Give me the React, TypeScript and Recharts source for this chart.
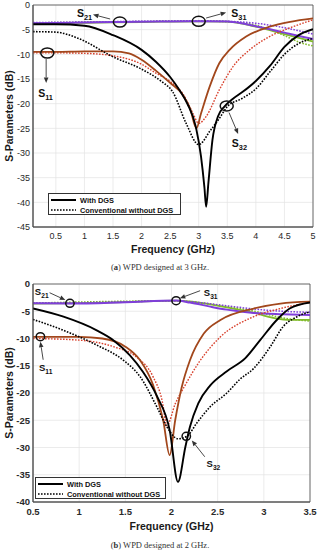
import {
  LineChart,
  Line,
  XAxis,
  YAxis,
  CartesianGrid,
  ReferenceDot,
  ReferenceLine,
  ReferenceArea,
} from "recharts";

type Pt = [number, number];

// ---- (a) WPD designed at 3 GHz ----
const topFreqTicks = [0.5, 1, 1.5, 2, 2.5, 3, 3.5, 4, 4.5, 5];
const topDbTicks = [0, -5, -10, -15, -20, -25, -30, -35, -40, -45];

const topS31Dgs: Pt[] = [[0.1, -3.75], [1, -3.6], [2, -3.45], [3, -3.3], [3.5, -3.35], [4, -4.4], [4.5, -5.9], [5, -7.4]];
const topS21Dgs: Pt[] = [[0.1, -3.7], [0.5, -3.65], [1, -3.55], [1.6, -3.45], [2, -3.4], [2.5, -3.35], [3, -3.3], [3.5, -3.35], [3.75, -3.7], [4, -4.3], [4.25, -4.9], [4.5, -5.6], [4.75, -6.3], [5, -6.9]];
const topS21Conv: Pt[] = [[0.1, -3.55], [1, -3.45], [2, -3.3], [3, -3.2], [3.5, -3.3], [4, -3.7], [4.5, -4.6], [5, -5.9]];
const topS31Conv: Pt[] = [[0.1, -3.6], [1, -3.5], [2, -3.35], [3, -3.25], [3.5, -3.4], [4, -4.1], [4.25, -5], [4.5, -6.2], [4.75, -7.5], [5, -8.3]];
const topS11Dgs: Pt[] = [[0.1, -9.5], [0.5, -9.5], [1, -9.4], [1.5, -9.4], [1.78, -9.8], [2, -11.1], [2.25, -13.3], [2.5, -15.8], [2.72, -18.2], [2.85, -21], [2.96, -25], [3.04, -22], [3.19, -16.6], [3.36, -11.8], [3.54, -9.1], [3.83, -6.4], [4.24, -4.4], [4.6, -3.4], [5, -2.7]];
const topS11Conv: Pt[] = [[0.1, -9.7], [0.5, -9.7], [1, -9.8], [1.5, -10.3], [2, -12], [2.25, -13.8], [2.5, -15.5], [2.75, -18.5], [2.9, -22], [3, -24], [3.13, -22.6], [3.36, -17.2], [3.6, -12.5], [3.89, -9.1], [4.24, -6.4], [4.65, -4.4], [5, -3]];
const topS32Dgs: Pt[] = [[0.1, -3.9], [0.5, -3.9], [1, -4.2], [1.5, -6.1], [2, -9.1], [2.25, -11.5], [2.5, -14.6], [2.66, -17.2], [2.8, -20], [2.95, -24.7], [3.04, -30.7], [3.1, -37], [3.13, -40.9], [3.17, -36], [3.24, -27.4], [3.34, -22.5], [3.45, -20.6], [3.6, -19], [3.77, -17.6], [4, -15.4], [4.25, -12.3], [4.5, -8.5], [4.75, -6.1], [5, -4.9]];
const topS32Conv: Pt[] = [[0.1, -5.4], [0.5, -5.5], [0.9, -6.8], [1.5, -10.5], [2, -13], [2.36, -15.6], [2.54, -17.5], [2.78, -24], [3, -28.3], [3.2, -25.5], [3.36, -23], [3.5, -20.6], [3.75, -19], [4, -17], [4.25, -13.5], [4.5, -10], [4.75, -7.8], [5, -6.8]];

const topCircles: Pt[] = [[1.62, -3.45], [3.0, -3.3], [0.35, -9.73], [3.49, -20.47]];
const topArrows: [number, number, number, number][] = [
  [1.45, -2.84, 1.15, -1.93],
  [3.13, -2.64, 3.48, -1.52],
  [0.33, -10.95, 0.33, -15.8],
  [3.53, -21.8, 3.69, -26.15],
];
const topLabels: [string, number, number][] = [
  ["21", 0.87, -2.43],
  ["31", 3.57, -2.43],
  ["11", 0.19, -18.65],
  ["32", 3.58, -28.8],
];

// ---- (b) WPD designed at 2 GHz ----
const botFreqTicks = [0.5, 1, 1.5, 2, 2.5, 3, 3.5];
const botDbTicks = [0, -5, -10, -15, -20, -25, -30, -35, -40];

const botS31Dgs: Pt[] = [[0.5, -3.6], [1, -3.5], [1.5, -3.3], [2.05, -3.05], [2.3, -3.4], [2.6, -4.3], [2.9, -5.3], [3.1, -6.2], [3.3, -6.6], [3.5, -6.6]];
const botS21Dgs: Pt[] = [[0.5, -3.55], [0.9, -3.6], [1.5, -3.35], [2.05, -3.05], [2.2, -3.4], [2.42, -4.15], [2.6, -4.7], [2.89, -5.3], [3.2, -5.55], [3.5, -5.7]];
const botS21Conv: Pt[] = [[0.5, -3.5], [1, -3.45], [1.5, -3.3], [2, -3.05], [2.3, -3.4], [2.6, -4], [2.9, -4.6], [3.2, -5], [3.5, -5.2]];
const botS31Conv: Pt[] = [[0.5, -3.5], [2, -3.1], [2.5, -3.9], [2.9, -5], [3.2, -6.2], [3.5, -6.8]];
const botS11Dgs: Pt[] = [[0.5, -9.7], [1, -9.7], [1.25, -10], [1.5, -11.5], [1.66, -14], [1.8, -18.5], [1.91, -25], [1.98, -31.4], [2.04, -25], [2.11, -19], [2.2, -14], [2.35, -9.1], [2.53, -6.6], [2.89, -4.5], [3.18, -3.6], [3.5, -3.25]];
const botS11Conv: Pt[] = [[0.5, -10], [1, -10.3], [1.37, -11.5], [1.62, -13.4], [1.8, -17], [1.9, -21.5], [1.95, -26], [2.04, -22], [2.15, -18.5], [2.3, -14.3], [2.53, -9.7], [2.89, -6], [3.18, -4.5], [3.5, -3.4]];
const botS32Dgs: Pt[] = [[0.5, -4.5], [0.83, -6], [1.19, -8.5], [1.37, -10.3], [1.55, -13.1], [1.69, -16.1], [1.84, -20.5], [1.98, -26.8], [2.07, -36.3], [2.15, -29.9], [2.2, -26.2], [2.29, -21.9], [2.42, -18.6], [2.6, -16], [2.8, -13.6], [2.96, -10.3], [3.14, -6.6], [3.28, -4.5], [3.5, -3.4]];
const botS32Conv: Pt[] = [[0.5, -6.5], [0.83, -8.5], [1.19, -11.2], [1.48, -14], [1.66, -17], [1.84, -22.5], [1.95, -26.2], [2.07, -28.4], [2.17, -27.9], [2.27, -25.6], [2.42, -22.5], [2.6, -20], [2.74, -17.5], [2.89, -15.5], [3.07, -11.5], [3.21, -7.8], [3.36, -6], [3.5, -5.1]];

const botCircles: Pt[] = [[0.9, -3.54], [2.05, -3.06], [0.58, -9.67], [2.16, -27.95]];
const botArrows: [number, number, number, number][] = [
  [0.68, -1.6, 0.85, -2.94],
  [2.31, -1.23, 2.09, -2.62],
  [0.61, -13.9, 0.58, -10.6],
  [2.36, -31.7, 2.22, -28.7],
];
const botLabels: [string, number, number][] = [
  ["21", 0.52, -2.0],
  ["31", 2.35, -2.2],
  ["11", 0.565, -15.96],
  ["32", 2.38, -33.6],
];

const PURPLE = "#7f3fd9";
const GREEN = "#80bb2a";
const BROWN = "#a2471c";
const RED = "#d8402c";
const DOT = "1.6 1.4";
const SANS = "'Liberation Sans', Arial, sans-serif";

const toPts = (arr: Pt[]) => arr.map(([f, v]) => ({ f, v }));

const styleFor = (name: string) => {
  if (name.startsWith("S31 DGS")) return { stroke: GREEN, w: 1.8, dash: undefined };
  if (name.startsWith("S21 DGS")) return { stroke: PURPLE, w: 2, dash: undefined };
  if (name.startsWith("S21 conv")) return { stroke: PURPLE, w: 1.5, dash: DOT };
  if (name.startsWith("S31 conv")) return { stroke: GREEN, w: 1.5, dash: DOT };
  if (name.startsWith("S11 DGS")) return { stroke: BROWN, w: 1.8, dash: undefined };
  if (name.startsWith("S11 conv")) return { stroke: RED, w: 1.4, dash: DOT };
  if (name.startsWith("S32 DGS")) return { stroke: "#000", w: 1.9, dash: undefined };
  return { stroke: "#000", w: 1.6, dash: DOT };
};

const ArrowShape = (props: any) => {
  const { x1, y1, x2, y2 } = props;
  const a = Math.atan2(y2 - y1, x2 - x1);
  const len = 5.5;
  const half = 2.3;
  const bx = x2 - len * Math.cos(a);
  const by = y2 - len * Math.sin(a);
  const px = -Math.sin(a) * half;
  const py = Math.cos(a) * half;
  return (
    <g>
      <line x1={x1} y1={y1} x2={bx} y2={by} stroke="#333" strokeWidth={0.9} />
      <polygon points={`${x2},${y2} ${bx + px},${by + py} ${bx - px},${by - py}`} fill="#333" />
    </g>
  );
};

type PanelProps = {
  series: [string, Pt[]][];
  xDomain: [number, number];
  xTicks: number[];
  yDomain: [number, number];
  yTicks: number[];
  circles: Pt[];
  arrows: [number, number, number, number][];
  labels: [string, number, number][];
  width: number;
  height: number;
  right: number;
  boldTicks: boolean;
  ellipse: [number, number];
  labelSize: number;
  xLabelOffset: number;
};

const Panel = (p: PanelProps) => {
  const tick = {
    fontSize: p.boldTicks ? 9.5 : 9,
    fontWeight: p.boldTicks ? "bold" : "normal",
    fill: "#2a2a2a",
    fontFamily: SANS,
  };
  return (
    <LineChart
      width={p.width}
      height={p.height}
      margin={{ top: 5, right: p.right, left: 0, bottom: 0 }}
    >
      <CartesianGrid stroke="#e3e3e3" strokeWidth={0.7} />
      <ReferenceArea
        x1={p.xDomain[0]}
        x2={p.xDomain[1]}
        y1={p.yDomain[0]}
        y2={p.yDomain[1]}
        fill="none"
        stroke="#4d4d4d"
        strokeWidth={0.8}
        fillOpacity={0}
      />
      <XAxis
        dataKey="f"
        type="number"
        domain={p.xDomain}
        ticks={p.xTicks}
        allowDataOverflow
        height={35}
        tickLine={false}
        tickSize={6}
        tickMargin={0}
        axisLine={{ stroke: "#4d4d4d" }}
        tick={tick}
        label={{
          value: "Frequency (GHz)",
          position: "insideBottom",
          offset: p.xLabelOffset,
          style: { fontFamily: SANS, fontWeight: "bold", fontSize: 10.5, fill: "#1a1a1a" },
        }}
      />
      <YAxis
        type="number"
        domain={p.yDomain}
        ticks={p.yTicks}
        allowDataOverflow
        width={33}
        tickLine={false}
        tickSize={2}
        tickMargin={1}
        axisLine={{ stroke: "#4d4d4d" }}
        tick={tick}
        label={{
          content: (lp: any) => {
            const vb = lp.viewBox || { x: 0, y: 0, height: 0 };
            const cx = vb.x + 9;
            const cy = vb.y + vb.height / 2;
            return (
              <text
                x={cx}
                y={cy}
                transform={`rotate(-90, ${cx}, ${cy})`}
                textAnchor="middle"
                dominantBaseline="central"
                fontFamily={SANS}
                fontWeight="bold"
                fontSize={10.5}
                fill="#1a1a1a"
              >
                S-Parameters (dB)
              </text>
            );
          },
        }}
      />
      {p.series.map(([name, pts]) => {
        const s = styleFor(name);
        return (
          <Line
            key={name}
            name={name}
            data={toPts(pts)}
            dataKey="v"
            type="monotone"
            stroke={s.stroke}
            strokeWidth={s.w}
            strokeDasharray={s.dash}
            dot={false}
            activeDot={false}
            isAnimationActive={false}
          />
        );
      })}
      {p.arrows.map(([f1, d1, f2, d2], i) => (
        <ReferenceLine
          key={`a${i}`}
          segment={[
            { x: f1, y: d1 },
            { x: f2, y: d2 },
          ]}
          ifOverflow="visible"
          shape={(sp: any) => <ArrowShape {...sp} />}
        />
      ))}
      {p.circles.map(([f, d], i) => (
        <ReferenceDot
          key={`c${i}`}
          x={f}
          y={d}
          r={5}
          ifOverflow="visible"
          shape={(sp: any) => (
            <ellipse
              cx={sp.cx}
              cy={sp.cy}
              rx={p.ellipse[0]}
              ry={p.ellipse[1]}
              fill="none"
              stroke="#111"
              strokeWidth={1.5}
            />
          )}
        />
      ))}
      {p.labels.map(([sub, f, d], i) => (
        <ReferenceDot
          key={`l${i}`}
          x={f}
          y={d}
          r={1}
          ifOverflow="visible"
          shape={(sp: any) => (
            <text
              x={sp.cx}
              y={sp.cy}
              fontFamily={SANS}
              fontWeight="bold"
              fontSize={p.labelSize}
              fill="#111"
            >
              S
              <tspan dy={p.labelSize * 0.3} fontSize={p.labelSize * 0.7}>
                {sub}
              </tspan>
            </text>
          )}
        />
      ))}
    </LineChart>
  );
};

const LegendBox = ({ left, top, width }: { left: number; top: number; width: number }) => (
  <div
    style={{
      position: "absolute",
      left,
      top,
      width,
      height: 22,
      border: "1px solid #333",
      background: "#fff",
      boxSizing: "border-box",
      fontFamily: SANS,
      fontWeight: "bold",
      fontSize: 7.4,
      color: "#111",
    }}
  >
    {[
      ["With DGS", undefined],
      ["Conventional without DGS", DOT],
    ].map(([txt, dash], i) => (
      <div
        key={i}
        style={{ position: "absolute", left: 2, top: 1 + i * 10, height: 10, display: "flex", alignItems: "center" }}
      >
        <svg width={26} height={10}>
          <line x1={0} y1={5} x2={25} y2={5} stroke="#000" strokeWidth={i === 0 ? 2 : 1.6} strokeDasharray={dash} />
        </svg>
        <span style={{ marginLeft: 3, whiteSpace: "nowrap" }}>{txt}</span>
      </div>
    ))}
  </div>
);

const Caption = ({ top, tag, text }: { top: number; tag: string; text: string }) => (
  <div
    style={{
      position: "absolute",
      left: 0,
      width: 320,
      top,
      textAlign: "center",
      fontFamily: "'Liberation Serif', 'Times New Roman', serif",
      fontSize: 8.5,
      color: "#333",
      lineHeight: "10px",
    }}
  >
    (<b>{tag}</b>) {text}
  </div>
);

export default function App() {
  return (
    <div style={{ position: "relative", width: 320, height: 550, background: "#fff", overflow: "hidden" }}>
      <style>{`body{margin:0}`}</style>
      <div style={{ position: "absolute", left: 0, top: 0 }}>
        <Panel
          series={[
            ["S31 DGS", topS31Dgs],
            ["S31 conv", topS31Conv],
            ["S21 conv", topS21Conv],
            ["S21 DGS", topS21Dgs],
            ["S11 conv", topS11Conv],
            ["S11 DGS", topS11Dgs],
            ["S32 conv", topS32Conv],
            ["S32 DGS", topS32Dgs],
          ]}
          xDomain={[0.1, 5]}
          xTicks={topFreqTicks}
          yDomain={[-45, 0]}
          yTicks={topDbTicks}
          circles={topCircles}
          arrows={topArrows}
          labels={topLabels}
          width={320}
          height={262}
          right={7}
          boldTicks={false}
          ellipse={[6.5, 5]}
          labelSize={10.5}
          xLabelOffset={9}
        />
      </div>
      <LegendBox left={48} top={193} width={133} />
      <Caption top={262} tag="a" text="WPD designed at 3 GHz." />
      <div style={{ position: "absolute", left: 0, top: 279 }}>
        <Panel
          series={[
            ["S31 DGS", botS31Dgs],
            ["S31 conv", botS31Conv],
            ["S21 conv", botS21Conv],
            ["S21 DGS", botS21Dgs],
            ["S11 conv", botS11Conv],
            ["S11 DGS", botS11Dgs],
            ["S32 conv", botS32Conv],
            ["S32 DGS", botS32Dgs],
          ]}
          xDomain={[0.5, 3.5]}
          xTicks={botFreqTicks}
          yDomain={[-40, 0]}
          yTicks={botDbTicks}
          circles={botCircles}
          arrows={botArrows}
          labels={botLabels}
          width={320}
          height={258}
          right={10}
          boldTicks={true}
          ellipse={[4.2, 4]}
          labelSize={9.5}
          xLabelOffset={7}
        />
      </div>
      <LegendBox left={35} top={477} width={131} />
      <Caption top={540} tag="b" text="WPD designed at 2 GHz." />
    </div>
  );
}
